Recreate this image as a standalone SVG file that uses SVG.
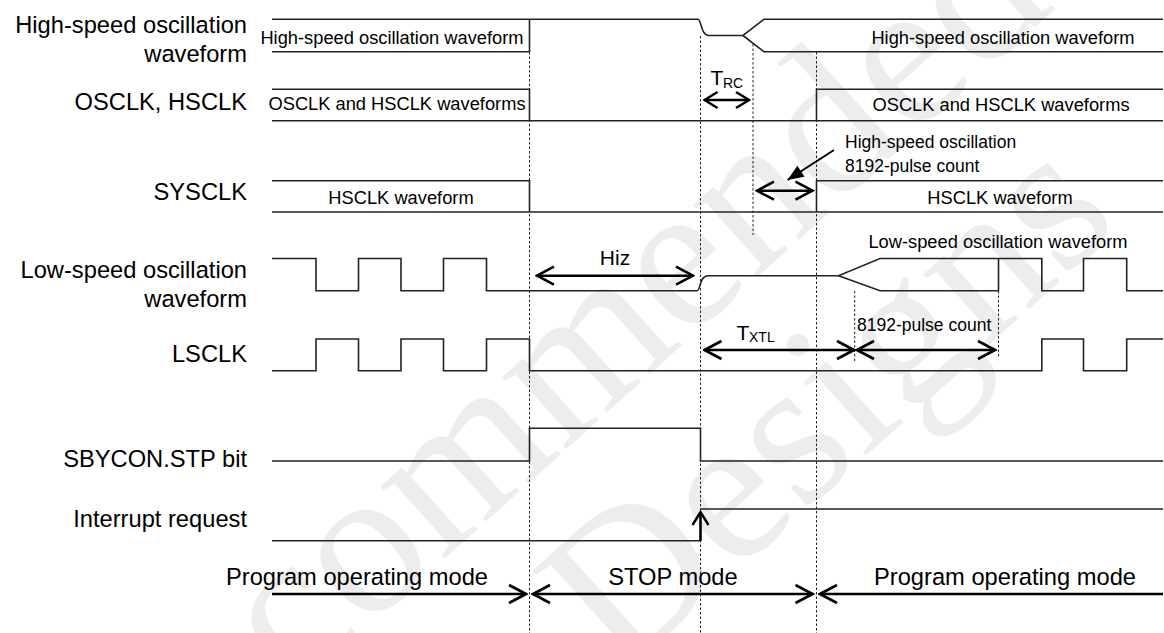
<svg xmlns="http://www.w3.org/2000/svg" width="1164" height="633" viewBox="0 0 1164 633">
<style>
.lbl{font-family:"Liberation Sans",Arial,sans-serif;font-size:23.7px;fill:#000;text-anchor:end}
.in{font-family:"Liberation Sans",Arial,sans-serif;font-size:18.3px;fill:#000}
.mid{text-anchor:middle}
.sub{font-size:14px}
.wf{fill:none;stroke:#222;stroke-width:1.6}
.dot{fill:none;stroke:#222;stroke-width:1;stroke-dasharray:2.5 2}
.arr{fill:none;stroke:#000;stroke-width:2.6}
.wm{font-family:"Liberation Serif","Times New Roman",serif;font-size:210px;fill:#ededed}
</style>
<defs>
<marker id="oa" markerUnits="userSpaceOnUse" viewBox="-20 -12 22 24" markerWidth="22" markerHeight="24" refX="0" refY="0" orient="auto-start-reverse">
<path d="M-17,-9 L0,0 L-17,9" fill="none" stroke="#000" stroke-width="2.6"/>
</marker>
<marker id="sa" markerUnits="userSpaceOnUse" viewBox="-16 -10 18 20" markerWidth="18" markerHeight="20" refX="0" refY="0" orient="auto-start-reverse">
<path d="M-13,-8 L0,0 L-13,8" fill="none" stroke="#000" stroke-width="2.4"/>
</marker>
<marker id="fa" markerUnits="userSpaceOnUse" viewBox="-18 -8 20 16" markerWidth="20" markerHeight="16" refX="0" refY="0" orient="auto">
<path d="M-16,-6.5 L0,0 L-16,6.5 Z" fill="#000"/>
</marker>
</defs>

<g id="watermark">
<text class="wm" transform="translate(121,850) rotate(-42)">Recommended</text>
<text class="wm" transform="translate(620,677) rotate(-42)">Designs</text>
</g>

<g id="labels">
<text class="lbl" x="247" y="33.3">High-speed oscillation</text>
<text class="lbl" x="247" y="61.7">waveform</text>
<text class="lbl" x="247" y="110">OSCLK, HSCLK</text>
<text class="lbl" x="247" y="200">SYSCLK</text>
<text class="lbl" x="247" y="278.3">Low-speed oscillation</text>
<text class="lbl" x="247" y="306.7">waveform</text>
<text class="lbl" x="247" y="361.7">LSCLK</text>
<text class="lbl" x="247" y="467">SBYCON.STP bit</text>
<text class="lbl" x="247" y="526.7">Interrupt request</text>
</g>

<g id="guides">
<path class="dot" d="M529.5,52 V633"/>
<path class="dot" d="M700.5,36 V633"/>
<path class="dot" d="M753,44 V235"/>
<path class="dot" d="M816.5,52 V633"/>
<path class="dot" d="M854.7,291 V362"/>
<path class="dot" d="M998.5,291 V358"/>
</g>

<g id="hs-osc">
<path class="wf" d="M272,51.7 H529.5 V19.3"/>
<path class="wf" d="M272,19.3 H698 C701.5,19.3 700.5,35.5 709,35.5 H743 L764,19.3 H1163"/>
<path class="wf" d="M743,35.5 L764,51.7 H1163"/>
<text class="in mid" x="392" y="44">High-speed oscillation waveform</text>
<text class="in mid" x="1003" y="44">High-speed oscillation waveform</text>
</g>

<g id="osclk">
<path class="wf" d="M272,89.3 H529.5 V120.7"/>
<path class="wf" d="M272,120.7 H1163"/>
<path class="wf" d="M816.5,120.7 V89.3 H1163"/>
<text class="in mid" x="397" y="110">OSCLK and HSCLK waveforms</text>
<text class="in mid" x="1001" y="110.5">OSCLK and HSCLK waveforms</text>
</g>

<g id="sysclk">
<path class="wf" d="M272,180.7 H529.5 V212"/>
<path class="wf" d="M272,212 H1163"/>
<path class="wf" d="M816.5,212 V180.7 H1163"/>
<text class="in mid" x="401" y="203.5">HSCLK waveform</text>
<text class="in mid" x="1000" y="204">HSCLK waveform</text>
</g>

<g id="ls-osc">
<path class="wf" d="M272,258.5 H316 V290.7 H358.5 V258.5 H401 V290.7 H443.5 V258.5 H486.5 V290.7 H697 C700.5,290.7 699.5,275.7 708,275.7 H838.6 L880,258.5 H1041.8 V290.7 H1083.5 V258.5 H1126.7 V290.7 H1163"/>
<path class="wf" d="M838.6,275.7 L880,290.7 H998.5 V258.5"/>
<text class="in mid" x="998" y="248">Low-speed oscillation waveform</text>
</g>

<g id="lsclk">
<path class="wf" d="M272,370.7 H316 V339 H358.5 V370.7 H401 V339 H443.5 V370.7 H486.5 V339 H529.5 V370.7 H1041.8 V339 H1083.5 V370.7 H1126.7 V339 H1163"/>
</g>

<g id="sbycon">
<path class="wf" d="M272,461 H529.5 V428.3 H700.5 V461 H1163"/>
</g>

<g id="interrupt">
<path class="wf" d="M272,540.7 H700.5"/>
<path class="wf" d="M700.5,509 H1163"/>
</g>

<g id="connectors">
<line class="arr" x1="704.5" y1="100" x2="749" y2="100" marker-start="url(#sa)" marker-end="url(#sa)"/>
<line class="arr" x1="757" y1="190.7" x2="812.5" y2="190.7" marker-start="url(#oa)" marker-end="url(#oa)"/>
<line stroke="#000" stroke-width="2" x1="834" y1="150" x2="787.5" y2="180" marker-end="url(#fa)"/>
<line class="arr" x1="537" y1="275.7" x2="693" y2="275.7" marker-start="url(#oa)" marker-end="url(#oa)"/>
<line class="arr" x1="704.5" y1="350" x2="854" y2="350" marker-start="url(#oa)" marker-end="url(#oa)"/>
<line class="arr" x1="857" y1="350" x2="995" y2="350" marker-start="url(#oa)" marker-end="url(#oa)"/>
<line class="arr" x1="700.5" y1="541" x2="700.5" y2="512" marker-end="url(#sa)"/>
<line class="arr" x1="272" y1="594" x2="526" y2="594" marker-end="url(#oa)"/>
<line class="arr" x1="533" y1="594" x2="812.5" y2="594" marker-start="url(#oa)" marker-end="url(#oa)"/>
<line class="arr" x1="820" y1="594" x2="1163" y2="594" marker-start="url(#oa)"/>
</g>

<g id="annotations">
<text class="in" x="710.5" y="85" style="font-size:21px">T</text>
<text class="in sub" x="723" y="87.5">RC</text>
<text class="in" x="845" y="148.3" style="font-size:17.5px">High-speed oscillation</text>
<text class="in" x="845" y="172.3" style="font-size:17.5px">8192-pulse count</text>
<text class="in mid" x="615" y="265" style="font-size:21px">Hiz</text>
<text class="in" x="736.5" y="340" style="font-size:21px">T</text>
<text class="in sub" x="749" y="341.7">XTL</text>
<text class="in" x="857" y="330.7" style="font-size:17.5px">8192-pulse count</text>
</g>

<g id="modes">
<text class="lbl mid" x="357" y="585">Program operating mode</text>
<text class="lbl mid" x="673" y="585">STOP mode</text>
<text class="lbl mid" x="1005" y="585">Program operating mode</text>
</g>
</svg>
